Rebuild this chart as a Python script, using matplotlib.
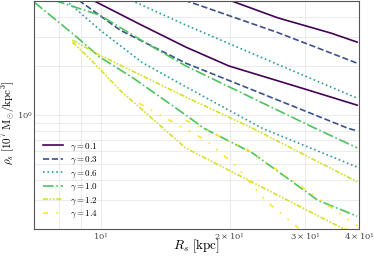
import matplotlib
matplotlib.use('Agg')
import matplotlib.pyplot as plt

plt.rcParams['mathtext.fontset'] = 'cm'
plt.rcParams['font.family'] = ['DejaVu Serif']

gammas = [0.1, 0.3, 0.6, 1.0, 1.2, 1.4]
colors = ['#440154', '#3b528b', '#2a9d9a', '#4cc35f', '#d4e12a', '#fde725']
styles = ['-', '--', ':', '-.', (0, (3, 1, 1, 1, 1, 1)), (0, (3, 5, 1, 5, 1, 5))]

# upper family of curves (R_s [kpc], rho_s [1e7 Msun/kpc^3])
R_up = [
    [20.0, 25.9, 34.4, 39.6],
    [15.7, 16.9, 25.9, 39.6],
    [11.8, 15.8, 25.9, 39.6],
    [7.8, 9.95, 12.8, 15.8, 31.6, 39.6],
    [8.6, 9.95, 15.8, 22.6, 39.6],
    [15.8, 22.1, 30.5, 39.6],
]
rho_up = [
    [5.05, 3.94, 3.18, 2.80],
    [5.05, 4.73, 3.2, 2.08],
    [5.05, 3.56, 2.04, 1.27],
    [5.05, 4.10, 2.75, 2.0, 0.83, 0.63],
    [2.88, 2.33, 1.29, 0.83, 0.39],
    [0.93, 0.61, 0.34, 0.21],
]

# lower family of curves
R_lo = [
    [9.6, 12.3, 15.8, 19.9, 29.5, 39.6],
    [8.9, 11.1, 15.8, 23.8, 37.7, 39.6],
    [8.3, 10.0, 12.5, 15.8, 23.8, 39.6],
    [7.0, 8.8, 9.95, 11.9, 15.8, 17.4, 22.6, 26.9, 32.1, 39.6],
    [8.6, 9.5, 11.1, 15.8, 36.5, 39.6],
    [12.3, 17.6, 20.7, 24.2, 28.9],
]
rho_lo = [
    [5.05, 3.62, 2.61, 2.0, 1.46, 1.15],
    [5.05, 3.32, 2.08, 1.35, 0.83, 0.80],
    [5.05, 3.3, 2.1, 1.49, 0.83, 0.48],
    [4.93, 3.01, 2.27, 1.69, 1.0, 0.83, 0.585, 0.42, 0.30, 0.24],
    [2.80, 2.18, 1.42, 0.627, 0.203, 0.19],
    [1.18, 0.70, 0.486, 0.30, 0.203],
]

fig = plt.figure(figsize=(3.74, 2.56), dpi=100)
ax = fig.add_axes([0.091, 0.105, 0.869, 0.891])

for i, g in enumerate(gammas):
    ax.plot(R_up[i], rho_up[i], color=colors[i], ls=styles[i], lw=1.2,
            label=r'$\gamma = %.1f$' % g)
    ax.plot(R_lo[i], rho_lo[i], color=colors[i], ls=styles[i], lw=1.2)

ax.set_xscale('log')
ax.set_yscale('log')
ax.set_xlim(7.0, 40.0)
ax.set_ylim(0.2, 5.0)

ax.grid(True, which='both', color='#e8e8e8', lw=0.6)
ax.set_axisbelow(True)
ax.tick_params(which='both', length=0, labelsize=6, colors='#444444', pad=1)
for s in ax.spines.values():
    s.set_color('#555555')
    s.set_linewidth(0.8)

ax.set_xlabel(r'$R_s\ [\mathrm{kpc}]$', fontsize=9.5)
ax.set_ylabel(r'$\rho_s\ [10^7\ \mathrm{M}_{\odot}/\mathrm{kpc}^3]$', fontsize=8)
ax.xaxis.set_label_coords(0.5, -0.035)
ax.yaxis.set_label_coords(-0.053, 0.465)

ax.legend(loc='lower left', frameon=False, fontsize=6.5, handlelength=2.2,
          labelspacing=0.2, borderaxespad=0.6, handletextpad=0.8)

fig.savefig('out.png', dpi=100)
